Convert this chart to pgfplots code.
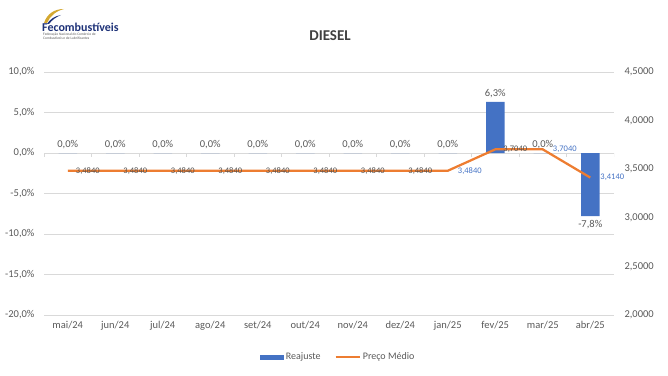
\documentclass[border=0pt]{standalone}
\usepackage{fontspec}
\setmainfont{Carlito}
\usepackage{pgfplots}
\pgfplotsset{compat=1.18}
\definecolor{barblue}{RGB}{68,114,196}
\definecolor{lineorange}{RGB}{237,125,49}
\definecolor{txtgray}{RGB}{89,89,89}
\definecolor{lblgray}{RGB}{80,80,80}
\definecolor{lblblue}{RGB}{68,114,196}
\definecolor{gridgray}{RGB}{217,217,217}
\definecolor{titlegray}{RGB}{64,64,64}
\definecolor{navy}{RGB}{30,50,120}
\definecolor{gold}{RGB}{212,168,48}
\pgfkeys{/pgf/number format/assume math mode=true}
\begin{document}
\begin{tikzpicture}
\useasboundingbox (0pt,0pt) rectangle (668pt,375pt);
% logo
\fill[gold] (44pt,352pt) .. controls (47pt,361pt) and (54pt,366pt) .. (64pt,366pt) .. controls (56pt,364pt) and (50pt,359pt) .. (47pt,352pt) -- cycle;
\fill[navy] (47pt,351pt) .. controls (50pt,356pt) and (55pt,359pt) .. (61pt,360pt) .. controls (56pt,358pt) and (52pt,355pt) .. (49pt,351pt) -- cycle;
\node[anchor=west, inner sep=0pt, text=navy, font=\fontsize{12}{13}\selectfont\bfseries] at (42pt,348pt) {Fecombustíveis};
\node[anchor=west, inner sep=0pt, text=txtgray, font=\fontsize{3.6}{4}\selectfont] at (43pt,340.5pt) {Federação Nacional do Comércio de};
\node[anchor=west, inner sep=0pt, text=txtgray, font=\fontsize{3.6}{4}\selectfont] at (43pt,336.5pt) {Combustíveis e de Lubrificantes};
% title
\node[text=titlegray, font=\fontsize{15}{17}\selectfont\bfseries] at (330pt,339pt) {DIESEL};
\begin{axis}[
  at={(44pt,60pt)}, anchor=south west,
  scale only axis, width=570pt, height=243pt,
  xmin=-0.5, xmax=11.5, ymin=-20, ymax=10,
  ybar, bar width=18.5pt,
  ytick={-20,-15,...,10},
  yticklabels={{-20,0\%},{-15,0\%},{-10,0\%},{-5,0\%},{0,0\%},{5,0\%},{10,0\%}},
  xtick={0,...,11},
  xticklabels={mai/24,jun/24,jul/24,ago/24,set/24,out/24,nov/24,dez/24,jan/25,fev/25,mar/25,abr/25},
  ymajorgrids, grid style={gridgray, line width=0.75pt},
  axis line style={draw=none},
  major tick length=0pt,
  tick label style={font=\fontsize{10.5}{12}\selectfont, text=txtgray},
  yticklabel style={xshift=-6pt},
  xticklabel style={yshift=-3pt},
  legend columns=2,
  legend style={draw=none, fill=none, at={(0.516,-0.173)}, anchor=center,
    font=\fontsize{10}{12}\selectfont, text=txtgray,
    /tikz/every even column/.append style={column sep=12pt}},
  legend cell align=left,
]
\pgfplotsinvokeforeach{-0.5,0.5,...,11.5}{\draw[gridgray, line width=0.75pt] (axis cs:#1,0) -- ++(0pt,-4pt);}
\addplot[fill=barblue, draw=none,
  point meta=y,
  nodes near coords={\pgfmathprintnumber[fixed,fixed zerofill,precision=1,use comma]{\pgfplotspointmeta}\%},
  nodes near coords style={font=\fontsize{10.5}{12}\selectfont, text=txtgray, inner sep=4pt},
  legend image code/.code={\fill[barblue] (0pt,-2.5pt) rectangle (24pt,2.5pt);}]
coordinates {(0,0) (1,0) (2,0) (3,0) (4,0) (5,0) (6,0) (7,0) (8,0) (9,6.3) (10,0) (11,-7.8)};
\addlegendentry{Reajuste}
\addlegendimage{legend image code/.code={\draw[lineorange, line width=2.25pt] (0pt,0pt) -- (24pt,0pt);}}
\addlegendentry{Preço Médio}
\end{axis}
\begin{axis}[
  at={(44pt,60pt)}, anchor=south west,
  scale only axis, width=570pt, height=243pt,
  xmin=-0.5, xmax=11.5, ymin=2, ymax=4.5,
  axis x line=none, axis y line*=right,
  axis line style={draw=none},
  major tick length=0pt,
  ytick={2,2.5,...,4.5},
  yticklabels={{2,0000},{2,5000},{3,0000},{3,5000},{4,0000},{4,5000}},
  tick label style={font=\fontsize{10.5}{12}\selectfont, text=txtgray},
  yticklabel style={xshift=7pt},
]
\addplot[draw=none, mark=none, point meta=y,
  nodes near coords={\pgfmathprintnumber[fixed,fixed zerofill,precision=4,use comma]{\pgfplotspointmeta}},
  nodes near coords align={horizontal},
  every node near coord/.append style={anchor=west, xshift=6pt, font=\fontsize{8.5}{10}\selectfont, text=lblgray, inner sep=2pt}]
coordinates {(0,3.484) (1,3.484) (2,3.484) (3,3.484) (4,3.484) (5,3.484) (6,3.484) (7,3.484) (9,3.704)};
\addplot[lineorange, line width=2.25pt, mark=none]
coordinates {(0,3.484) (1,3.484) (2,3.484) (3,3.484) (4,3.484) (5,3.484) (6,3.484) (7,3.484) (8,3.484) (9,3.704) (10,3.704) (11,3.414)};
\addplot[draw=none, mark=none, point meta=y,
  nodes near coords={\pgfmathprintnumber[fixed,fixed zerofill,precision=4,use comma]{\pgfplotspointmeta}},
  nodes near coords align={horizontal},
  every node near coord/.append style={anchor=west, xshift=8pt, font=\fontsize{8.5}{10}\selectfont, text=lblblue, inner sep=2pt}]
coordinates {(8,3.484) (10,3.704) (11,3.414)};
\end{axis}
\end{tikzpicture}
\end{document}
